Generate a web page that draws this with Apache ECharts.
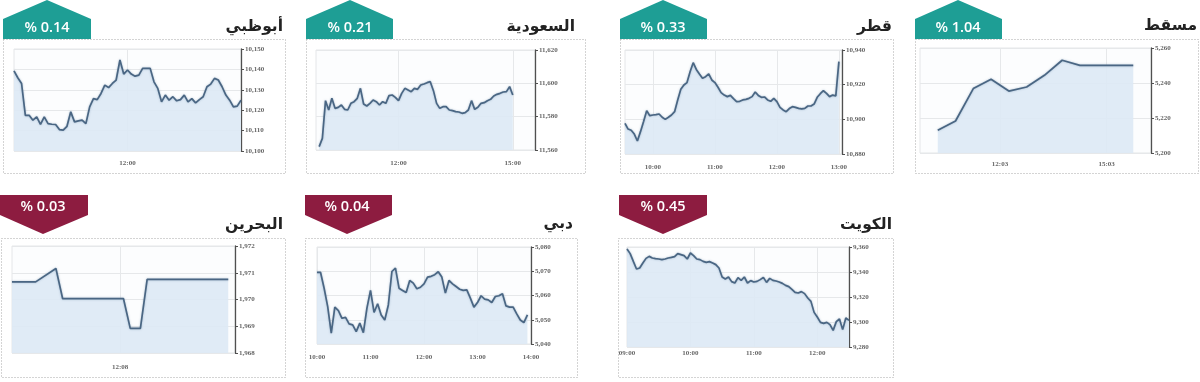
<!DOCTYPE html>
<html>
<head>
<meta charset="utf-8">
<script src="https://cdn.jsdelivr.net/npm/echarts/dist/echarts.min.js"></script>
<style>
html,body{margin:0;padding:0;background:#ffffff;}
#chart{width:1200px;height:382px;}
</style>
</head>
<body>
<div id="chart"></div>
<script>
// ---------------- DATA ----------------
// Panel titles and change badges
const titles = ['أبوظبي', 'السعودية', 'قطر', 'مسقط', 'البحرين', 'دبي', 'الكويت'];
const changes = ['% 0.14', '% 0.21', '% 0.33', '% 1.04', '% 0.03', '% 0.04', '% 0.45'];
const directions = ['up', 'up', 'up', 'up', 'down', 'down', 'down'];

// x-axis tick labels shown on each panel
const adTicks = ['12:00'];
const saTicks = ['12:00', '15:00'];
const qaTicks = ['10:00', '11:00', '12:00', '13:00'];
const muTicks = ['12:03', '15:03'];
const bhTicks = ['12:08'];
const dbTicks = ['10:00', '11:00', '12:00', '13:00', '14:00'];
const kwTicks = ['09:00', '10:00', '11:00', '12:00'];

// y-axis ranges [min, max, interval]
const adRange = [10100, 10150, 10];
const saRange = [11560, 11620, 20];
const qaRange = [10880, 10940, 20];
const muRange = [5200, 5260, 20];
const bhRange = [1968, 1972, 1];
const dbRange = [5040, 5080, 10];
const kwRange = [9280, 9360, 20];

// Abu Dhabi: 10:00 -> 14:00 every 4 min
const adValues = [10139.3,10135.9,10133.1,10117.5,10117.5,10115.1,10116.7,10113.1,10116.7,10113.4,
  10113.1,10113.0,10110.5,10110.2,10112.1,10119.2,10114.3,10114.8,10115.1,10113.4,
  10121.6,10125.7,10125.2,10128.2,10132.3,10131.1,10133.1,10134.8,10144.6,10137.7,
  10139.7,10137.7,10136.7,10137.2,10140.5,10140.5,10140.5,10133.9,10130.7,10124.1,
  10127.4,10124.9,10126.6,10124.6,10125.2,10127.4,10124.1,10125.7,10123.6,10125.2,
  10126.6,10131.5,10132.8,10135.6,10134.8,10131.5,10127.4,10124.9,10121.6,10122.0,
  10124.9];

// Saudi: 09:50 -> 15:35 every 5 min (data 09:55 -> 15:00)
const saValues = [null,11562,11567,11589.6,11584,11591,11585,11585.6,11587,11584.4,11584,
  11588,11589,11591,11597,11587.6,11586.4,11588,11590,11589,11587,
  11589,11588,11592.6,11593,11591.6,11589.6,11594,11597,11596,11595,
  11597,11596.4,11599,11599.6,11600.4,11601,11595.6,11588,11585,11586,
  11586,11584,11583.6,11583,11582.8,11582,11582.4,11584,11589.6,11584.4,
  11585.6,11588,11588.4,11589.6,11590.4,11592.4,11593.4,11594,11594.8,11595,
  11598,11593];

// Qatar: 09:33 -> 13:03 every 3 min
const qaValues = [10897.7,10894.4,10893.7,10891.5,10887.5,10892.9,10898.7,10905,10902.1,10902.5,
  10902.7,10903.1,10901.2,10900,10901.2,10902.5,10904.4,10911.2,10917.3,10919.8,
  10921.2,10927.5,10932.7,10928.8,10926.2,10923.7,10924.6,10926.2,10922.7,10921.2,
  10918.5,10915.4,10914,10913.1,10913.8,10911.9,10910.2,10910.4,10911.2,10911.5,
  10912.1,10913.1,10915.8,10913.8,10912.7,10912.9,10911.2,10910.4,10912.1,10910.2,
  10906.9,10905.4,10904.4,10906.2,10907.3,10906.9,10906.3,10906,10906.3,10907.7,
  10907.7,10908.8,10912.7,10914.8,10916.5,10915,10913.1,10914,10913.5,10933.3,
  null];

// Muscat: half-hourly readings
const muPoints = [['10:18',5213],['10:48',5218.3],['11:18',5236.8],['11:48',5242.1],
  ['12:18',5235.4],['12:48',5237.7],['13:18',5244.4],['13:48',5253],
  ['14:18',5250.1],['14:48',5250.1],['15:18',5250.1],['15:48',5250.1]];

// Bahrain: change points
const bhPoints = [['11:04',1970.66],['11:18',1970.66],['11:30',1971.16],['11:34',1970.03],
  ['12:10',1970.03],['12:14',1968.92],['12:20',1968.92],['12:24',1970.75],['13:12',1970.75]];

// Dubai: 10:00 -> 14:00 every 4 min
const dbValues = [5069.5,5069.5,5063,5055.4,5044.5,5055.2,5053.8,5050.6,5051,5048.3,
  5047.9,5045.1,5048.6,5044.7,5054.8,5062.1,5053,5056.6,5052,5049.9,
  5056.1,5069.9,5071.3,5063,5062.1,5061.2,5066.2,5065.1,5062.8,5063.4,
  5064.8,5067.6,5067.9,5068.6,5069.8,5067.6,5061,5066.2,5064.8,5063.7,
  5062.6,5062.1,5062.3,5058.9,5055.2,5057.1,5059.9,5058.5,5058.2,5057.1,
  5059.6,5059.9,5060.7,5055.7,5055.2,5055.2,5052.4,5049.9,5048.8,5052,
  null];

// Kuwait: 09:00 -> 12:30 every 3 min
const kwValues = [9358.4,9354.7,9348.5,9342.4,9343.2,9347.2,9350.9,9352.5,9351.2,9350.7,
  9350.4,9349.9,9350.4,9351.2,9351.7,9352.3,9354.7,9353.9,9353.1,9350.4,
  9355.2,9353.1,9350.4,9349.9,9348.5,9347.7,9348.3,9347.2,9345.9,9343.2,
  9336,9334.4,9336,9332.3,9331.2,9335.5,9333.3,9336,9331.2,9333.1,
  9332,9332.5,9333.9,9335.7,9331.7,9334.9,9333.3,9332.8,9332,9330.9,
  9329.3,9328.3,9326.1,9323.7,9323.2,9324.3,9322.7,9319.2,9316.5,9307.7,
  9304,9299.7,9298.9,9299.7,9297.9,9293.3,9300.3,9302.4,9293.9,9303.2,9301.3];

// ---------------- helpers ----------------
function times(start, step, n) {
  const p = start.split(':').map(Number);
  const t0 = p[0] * 60 + p[1];
  const out = [];
  for (let i = 0; i < n; i++) {
    const t = t0 + i * step;
    out.push(String(Math.floor(t / 60)).padStart(2, '0') + ':' + String(t % 60).padStart(2, '0'));
  }
  return out;
}
function fmt(v) { return String(v).replace(/\B(?=(\d{3})+(?!\d))/g, ','); }

const panels = [
  { cats: times('10:00', 4, 61), ticks: adTicks, range: adRange, data: adValues },
  { cats: times('09:50', 5, 70), ticks: saTicks, range: saRange, data: saValues },
  { cats: times('09:33', 3, 71), ticks: qaTicks, range: qaRange, data: qaValues },
  { cats: times('09:48', 15, 27), ticks: muTicks, range: muRange, data: muPoints },
  { cats: times('11:04', 2, 67), ticks: bhTicks, range: bhRange, data: bhPoints },
  { cats: times('10:00', 4, 61), ticks: dbTicks, range: dbRange, data: dbValues },
  { cats: times('09:00', 3, 71), ticks: kwTicks, range: kwRange, data: kwValues }
];

// ---------------- layout (positions only) ----------------
const grids = [
  { left: 14, top: 49, width: 227, height: 102, lm: 9 },
  { left: 316, top: 50, width: 219, height: 100, lm: 10 },
  { left: 625, top: 50, width: 217, height: 104, lm: 10 },
  { left: 920, top: 48, width: 231, height: 105, lm: 8 },
  { left: 12, top: 246, width: 223, height: 107, lm: 11 },
  { left: 317, top: 247, width: 214, height: 97, lm: 10 },
  { left: 627, top: 247, width: 222, height: 100, lm: 3 }
];
const boxes = [
  [3, 39, 282, 134], [306, 39, 279, 134], [620, 39, 273, 134], [915, 39, 283, 134],
  [1, 238, 284, 139], [305, 238, 272, 139], [618, 238, 275, 139]
];
const badges = [
  { x0: 3, x1: 91, cx: 47 }, { x0: 306, x1: 393, cx: 350 }, { x0: 620, x1: 707, cx: 663 },
  { x0: 915, x1: 1002, cx: 958 }, { x0: 0, x1: 88, cx: 43 }, { x0: 305, x1: 392, cx: 347 },
  { x0: 619, x1: 707, cx: 663 }
];
const titlePos = [[283, 27], [575, 27], [892, 27], [1197, 26], [283, 225], [573, 224], [892, 225]];

const TEAL = '#1e9e95';
const MAROON = '#8d1c40';
const LINE = '#4a6683';

const option = {
  animation: false,
  backgroundColor: '#ffffff',
  grid: [], xAxis: [], yAxis: [], series: [], graphic: []
};

panels.forEach(function (p, i) {
  const g = grids[i];
  option.grid.push({ left: g.left, top: g.top, width: g.width, height: g.height,
    show: true, borderColor: '#e4e6e8', borderWidth: 1, backgroundColor: '#fcfdfe' });
  const ticks = p.ticks;
  const showFn = function (idx, val) { return ticks.indexOf(val) >= 0; };
  option.xAxis.push({
    type: 'category', gridIndex: i, data: p.cats, boundaryGap: false,
    axisLine: { show: false }, axisTick: { show: false },
    axisLabel: { interval: showFn, fontFamily: 'Liberation Serif', fontSize: 7, fontWeight: 'bold',
      color: '#666', margin: g.lm, showMinLabel: true, showMaxLabel: true, hideOverlap: false },
    splitLine: { show: true, interval: showFn, lineStyle: { color: '#e6e8ea', width: 1 } }
  });
  option.yAxis.push({
    type: 'value', gridIndex: i, position: 'right',
    min: p.range[0], max: p.range[1], interval: p.range[2],
    axisLine: { show: true, lineStyle: { color: '#505050', width: 1.3 } },
    axisTick: { show: true, length: 3, lineStyle: { color: '#505050' } },
    axisLabel: { formatter: fmt, fontFamily: 'Liberation Serif', fontSize: 7, fontWeight: 'bold',
      color: '#666', margin: 4 },
    splitLine: { show: true, lineStyle: { color: '#e6e8ea', width: 1 } }
  });
  option.series.push({
    type: 'line', xAxisIndex: i, yAxisIndex: i, data: p.data,
    showSymbol: false, symbol: 'none', connectNulls: true,
    lineStyle: { color: LINE, width: 1.7, shadowColor: 'rgba(90,125,160,0.5)', shadowBlur: 2 },
    areaStyle: { color: '#dde9f5', opacity: 0.9 }
  });

  const b = boxes[i];
  option.graphic.push({ type: 'rect', z: 1, silent: true,
    shape: { x: b[0] + 0.5, y: b[1] + 0.5, width: b[2], height: b[3] },
    style: { fill: 'none', stroke: '#a8a8a8', lineWidth: 1, lineDash: [1, 2] } });

  const bd = badges[i];
  let pts, ty;
  if (directions[i] === 'up') {
    pts = [[bd.x0, 39], [bd.x0, 19], [bd.cx, 0], [bd.x1, 19], [bd.x1, 39]];
    ty = 28;
  } else {
    pts = [[bd.x0, 195], [bd.x1, 195], [bd.x1, 215], [bd.cx, 234], [bd.x0, 215]];
    ty = 207;
  }
  option.graphic.push({ type: 'polygon', z: 5, silent: true, shape: { points: pts },
    style: { fill: directions[i] === 'up' ? TEAL : MAROON } });
  option.graphic.push({ type: 'text', z: 6, silent: true,
    style: { text: changes[i], x: bd.cx, y: ty, fill: '#ffffff', font: '600 14.5px "Open Sans"',
      textAlign: 'center', textVerticalAlign: 'middle' } });
  const tp = titlePos[i];
  option.graphic.push({ type: 'text', z: 6, silent: true,
    style: { text: titles[i], x: tp[0], y: tp[1], fill: '#222222', font: 'bold 15.5px "DejaVu Sans"',
      textAlign: 'right', textVerticalAlign: 'middle' } });
});

const chart = echarts.init(document.getElementById('chart'), null, { renderer: 'canvas' });
chart.setOption(option);
</script>
</body>
</html>
